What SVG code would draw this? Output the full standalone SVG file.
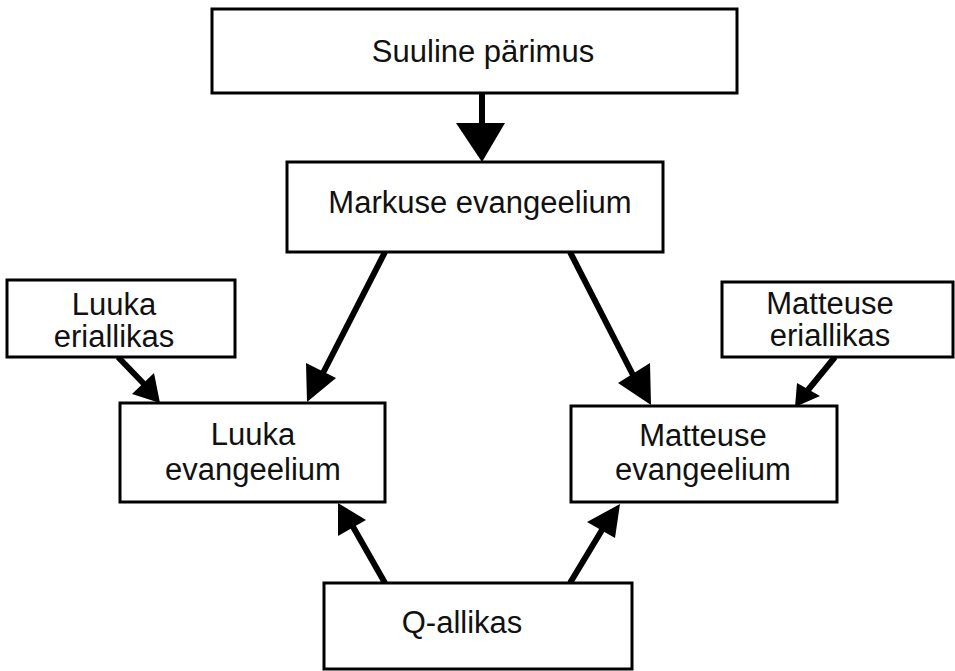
<svg xmlns="http://www.w3.org/2000/svg" width="955" height="671" viewBox="0 0 955 671">
<style>
.box{fill:#fff;stroke:#000;stroke-width:3}
.t{font-family:"Liberation Sans",Arial,sans-serif;font-size:31px;fill:#111;text-anchor:middle}
.sh{stroke:#000;stroke-width:6;fill:none}
.hd{fill:#000}
</style>
<rect width="955" height="671" fill="#fff"/>
<g id="connectors">
<line class="sh" x1="482" y1="93" x2="482" y2="126"/>
<polygon class="hd" points="456,123 505,123 482,162"/>
<line class="sh" x1="385" y1="252" x2="322" y2="375"/>
<polygon class="hd" points="307,402 306,363 336,378"/>
<line class="sh" x1="570" y1="252" x2="633" y2="375"/>
<polygon class="hd" points="651,405 618,383 650,363"/>
<line class="sh" x1="118" y1="357" x2="145" y2="385"/>
<polygon class="hd" points="160,403 132,394 154,373"/>
<line class="sh" x1="835" y1="357" x2="808" y2="390"/>
<polygon class="hd" points="795,407 797,383 820,396"/>
<line class="sh" x1="385" y1="583" x2="352" y2="525"/>
<polygon class="hd" points="338,503 338,536 366,520"/>
<line class="sh" x1="570" y1="583" x2="605" y2="525"/>
<polygon class="hd" points="620,504 587,522 615,538"/>
</g>
<g id="suuline">
<rect class="box" x="212" y="9" width="525" height="84"/>
<text class="t" x="483" y="62">Suuline pärimus</text>
</g>
<g id="markuse">
<rect class="box" x="287" y="162" width="376" height="90"/>
<text class="t" x="480" y="213">Markuse evangeelium</text>
</g>
<g id="luuka-eri">
<rect class="box" x="7" y="280" width="228" height="77"/>
<text class="t" x="114" y="315">Luuka</text>
<text class="t" x="114" y="347">eriallikas</text>
</g>
<g id="matteuse-eri">
<rect class="box" x="722" y="282" width="231" height="75"/>
<text class="t" x="830" y="314">Matteuse</text>
<text class="t" x="830" y="346">eriallikas</text>
</g>
<g id="luuka-ev">
<rect class="box" x="120" y="403" width="265" height="99"/>
<text class="t" x="253" y="445">Luuka</text>
<text class="t" x="253" y="480">evangeelium</text>
</g>
<g id="matteuse-ev">
<rect class="box" x="571" y="406" width="266" height="96"/>
<text class="t" x="703" y="446">Matteuse</text>
<text class="t" x="703" y="480">evangeelium</text>
</g>
<g id="q">
<rect class="box" x="324" y="583" width="308" height="86"/>
<text class="t" x="462" y="633">Q-allikas</text>
</g>
</svg>
